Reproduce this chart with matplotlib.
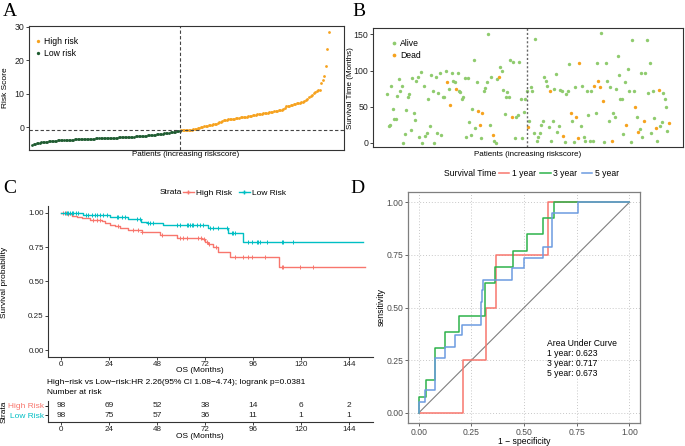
import numpy as np
import matplotlib
matplotlib.use("Agg")
import matplotlib.pyplot as plt
from matplotlib.lines import Line2D

plt.rcParams["font.family"] = ["Liberation Sans", "DejaVu Sans"]
plt.rcParams["font.size"] = 6

# --- data ---
# A: risk score per patient, sorted
risk_low = [-5.3, -5.1, -5.0, -4.9, -4.8, -4.7, -4.6, -4.5, -4.45, -4.4,
            -4.35, -4.3, -4.25, -4.2, -4.15, -4.1, -4.05, -4.0, -3.98, -3.95,
            -3.92, -3.9, -3.88, -3.85, -3.82, -3.8, -3.78, -3.75, -3.72, -3.7,
            -3.68, -3.66, -3.64, -3.62, -3.6, -3.58, -3.56, -3.54, -3.52, -3.5,
            -3.48, -3.46, -3.44, -3.42, -3.4, -3.38, -3.36, -3.34, -3.32, -3.3,
            -3.28, -3.26, -3.24, -3.22, -3.2, -3.18, -3.16, -3.14, -3.12, -3.1,
            -3.08, -3.06, -3.04, -3.0, -2.97, -2.94, -2.9, -2.87, -2.84, -2.8,
            -2.76, -2.72, -2.68, -2.64, -2.6, -2.56, -2.52, -2.48, -2.43, -2.38,
            -2.33, -2.28, -2.22, -2.16, -2.1, -2.03, -1.96, -1.89, -1.82, -1.75,
            -1.68, -1.6, -1.52, -1.44, -1.36, -1.28, -1.18, -1.08]
risk_high = [-1.0, -0.98, -0.95, -0.92, -0.9, -0.88, -0.85, -0.8, -0.7, -0.6,
             -0.45, -0.3, -0.15, 0.0, 0.1, 0.2, 0.3, 0.4, 0.5, 0.6,
             0.7, 0.8, 0.9, 1.0, 1.2, 1.4, 1.6, 1.8, 2.0, 2.1,
             2.2, 2.3, 2.35, 2.4, 2.45, 2.5, 2.6, 2.7, 2.8, 2.9,
             3.0, 3.05, 3.1, 3.15, 3.2, 3.3, 3.4, 3.5, 3.6, 3.7,
             3.8, 3.9, 4.0, 4.05, 4.1, 4.15, 4.2, 4.3, 4.4, 4.5,
             4.6, 4.7, 4.8, 4.9, 5.0, 5.1, 5.2, 5.3, 5.8, 6.2,
             6.3, 6.4, 6.5, 6.6, 6.8, 7.0, 7.1, 7.2, 7.3, 7.4,
             7.6, 7.9, 8.2, 8.5, 8.9, 9.3, 9.7, 10.1, 10.5, 10.8,
             11.0, 11.1, 13.3, 14.0, 15.3, 18.3, 23.5, 28.6]
risk_cutoff = -0.95

# B: survival time (months) and status (1 = dead), same patient order
time_low = [67, 23, 25, 78, 46, 33, 33, 65, 88, 71, 79, 0, 12, 45, 64, 68, 17, 90, 41, 32,
            85, 91, 8, 98, 0, 78, 9, 13, 61, 23, 94, 71, 0, 91, 13, 69, 96, 11, 64, 64,
            100, 84, 75, 52, 97, 86, 84, 74, 96, 71, 70, 61, 64, 89, 8, 89, 28, 11, 46, 114,
            21, 84, 44, 25, 7, 41, 72, 76, 84, 151, 24, 91, 10, 3, 0, 88, 91, 105, 100, 73,
            40, 64, 70, 64, 115, 35, 112, 6, 36, 38, 112, 61, 6, 42, 61, 72]
dead_low = [0, 0, 0, 0, 0, 0, 0, 0, 0, 0, 0, 0, 0, 0, 0, 0, 0, 0, 0, 0,
            0, 0, 0, 0, 0, 0, 0, 0, 0, 0, 0, 0, 0, 0, 0, 0, 0, 0, 0, 0,
            0, 1, 0, 1, 0, 0, 0, 1, 0, 0, 0, 0, 0, 0, 0, 0, 0, 0, 0, 0,
            0, 0, 1, 1, 0, 1, 0, 0, 0, 0, 0, 0, 1, 0, 0, 0, 1, 0, 0, 0,
            0, 0, 0, 0, 0, 1, 0, 0, 0, 0, 0, 0, 0, 0, 0, 0]
time_high = [22, 30, 77, 72, 13, 144, 2, 8, 14, 24, 30, 91, 85, 78, 22, 71, 2, 30, 75, 95,
             15, 23, 73, 72, 9, 1, 68, 71, 109, 41, 30, 1, 77, 36, 6, 110, 23, 79, 8, 3,
             71, 39, 3, 72, 3, 79, 41, 111, 85, 77, 152, 58, 1, 110, 86, 30, 77, 2, 41, 36,
             75, 120, 94, 60, 61, 12, 84, 25, 102, 72, 1, 143, 72, 50, 35, 15, 19, 96, 8, 30,
             97, 143, 69, 111, 13, 72, 34, 21, 2, 73, 23, 28, 69, 61, 50, 16, 27]
dead_high = [1, 0, 0, 0, 0, 0, 0, 0, 0, 0, 0, 0, 0, 0, 0, 1, 0, 0, 0, 0,
             0, 0, 0, 0, 1, 0, 0, 0, 0, 1, 0, 0, 0, 1, 1, 1, 0, 0, 0, 0,
             0, 0, 0, 0, 0, 1, 0, 0, 1, 1, 0, 1, 0, 0, 0, 0, 0, 1, 0, 0,
             0, 0, 0, 0, 0, 0, 0, 1, 0, 0, 0, 0, 0, 1, 0, 1, 0, 0, 0, 1,
             0, 0, 0, 0, 0, 0, 0, 1, 0, 1, 0, 0, 0, 0, 0, 0, 1]

# C: Kaplan-Meier steps and censor times
km_high_t = [0, 2.8, 5.3, 8.2, 10.3, 14.5, 20.3, 22, 24.5, 27, 29.5, 33.7, 40.3, 49.5,
             57.8, 70.3, 72, 73.7, 76.2, 78.7, 84.5, 109, 152]
km_high_s = [1, .99, .978, .969, .961, .951, .939, .927, .915, .903, .886, .874, .859, .835,
             .818, .806, .789, .772, .748, .716, .675, .602, .602]
km_low_t = [0, 11, 24.5, 33.6, 40, 43, 51, 73.7, 83.7, 91.2, 151]
km_low_s = [1, .988, .971, .954, .935, .923, .91, .886, .854, .789, .789]
cens_high = [1.2, 2.3, 3.7, 16.2, 17.8, 19.5, 28.7, 36.2, 38.7, 40.3, 50.3, 59.5, 60.8,
             62.8, 68.7, 70, 71.5, 72.8, 74.2, 77.5, 87, 91, 93.7, 95.5, 102, 110.3, 111,
             119.5, 126]
cens_low = [2, 2.8, 3.7, 4.5, 5.3, 6.2, 7.5, 8.7, 12.5, 13.7, 15.3, 17, 17.8, 19.5, 21.2,
            22.8, 27.8, 28.7, 30.3, 32, 37.8, 39.5, 43.7, 44.5, 46.2, 57.8, 59.5, 62.8, 63.7,
            64.5, 65.3, 66.2, 67.8, 69.5, 71.2, 74.5, 76.2, 78.7, 82.8, 85.3, 86.2, 87, 93.7,
            95.3, 97.8, 98.7, 99.5, 102.8, 110.3, 111.2, 116.2]
risk_times = [0, 24, 48, 72, 96, 120, 144]
at_risk_high = [98, 69, 52, 38, 14, 6, 2]
at_risk_low = [98, 75, 57, 36, 11, 1, 1]

# D: ROC corners (steps-post)
roc_fpr = [
    [0, 0.21, 0.32, 0.365, 0.612, 1],
    [0, 0, 0.033, 0.076, 0.124, 0.192, 0.314, 0.361, 0.445, 0.512, 0.591, 0.642, 1],
    [0, 0, 0.029, 0.076, 0.124, 0.171, 0.203, 0.295, 0.300, 0.305, 0.441, 0.499, 0.588,
     0.634, 0.758, 1],
]
roc_tpr = [
    [0, 0.25, 0.5, 0.75, 1, 1],
    [0, 0.074, 0.154, 0.308, 0.384, 0.46, 0.617, 0.693, 0.77, 0.848, 0.924, 1, 1],
    [0, 0.05, 0.106, 0.262, 0.312, 0.371, 0.419, 0.527, 0.582, 0.63, 0.686, 0.736, 0.789,
     0.948, 1, 1],
]
roc_labels = ["1 year", "3 year", "5 year"]
roc_auc = [0.623, 0.717, 0.673]

# --- style ---
ORANGE = "#F6A21E"
DKGREEN = "#1E5B30"
LTGREEN = "#8FCB6E"
KM_RED = "#F8766D"
KM_TEAL = "#00BFC4"
ROC_COLORS = ["#F8766D", "#2DB34A", "#6C9BE0"]
INK = "#222222"
W, H = 685, 446


def fbox(l, t, r, b):
    return [l / W, 1 - b / H, (r - l) / W, (b - t) / H]


def fy(py):
    return 1 - py / H


def ftext(px, py, s, **kw):
    kw.setdefault("va", "center")
    kw.setdefault("ha", "center")
    kw.setdefault("fontsize", 6)
    fig.text(px / W, fy(py), s, **kw)


fig = plt.figure(figsize=(W / 100, H / 100), dpi=100)

# ---------------- A ----------------
axA = fig.add_axes(fbox(29, 26, 344, 150))
nl = len(risk_low)
xa = np.arange(1, nl + len(risk_high) + 1)
axA.scatter(xa[nl:], risk_high, s=4, color=ORANGE, lw=0, label="High risk")
axA.scatter(xa[:nl], risk_low, s=4, color=DKGREEN, lw=0, label="Low risk")
axA.axvline(nl + 0.5, color="#444444", ls=(0, (3, 2)), lw=0.8)
axA.axhline(risk_cutoff, color="#444444", ls=(0, (3, 2)), lw=0.8)
axA.set_xlim(-1, len(xa) + 10)
axA.set_ylim(-6.9, 30.3)
axA.set_yticks([0, 10, 20, 30])
axA.set_xticks([])
axA.tick_params(axis="y", length=2, width=0.6, pad=1.5, labelsize=6.3, colors=INK)
ftext(5.5, 88, "Risk Score", rotation=90, fontsize=6)
ftext(186, 155, "Patients (increasing riskscore)", fontsize=5.8)
axA.legend(loc="upper left", bbox_to_anchor=(0.016, 0.915), frameon=False,
           handlelength=1, handletextpad=0.2, borderpad=0, borderaxespad=0,
           labelspacing=0.35, markerscale=1.2, fontsize=6.2)
for s in axA.spines.values():
    s.set_color("#333333"); s.set_linewidth(0.8)

# ---------------- B ----------------
axB = fig.add_axes(fbox(373, 28, 683, 147))
times = np.array(time_low + time_high)
dead = np.array(dead_low + dead_high)
xb = np.arange(1, len(times) + 1)
axB.scatter(xb[dead == 0], times[dead == 0], s=6, color=LTGREEN, lw=0, label="Alive")
axB.scatter(xb[dead == 1], times[dead == 1], s=6, color=ORANGE, lw=0, label="Dead")
axB.axvline(len(time_low) + 0.5, color="#666666", ls=(0, (1.5, 1.5)), lw=1)
pad = 0.05 * (len(times) - 1)
axB.set_xlim(1 - pad, len(times) + pad)
axB.set_ylim(-6, 159)
axB.set_yticks([0, 50, 100, 150])
axB.set_xticks([])
axB.tick_params(axis="y", length=2, width=0.6, pad=1.5, labelsize=6.3, colors=INK)
ftext(350.5, 88, "Survival Time (Months)", rotation=90, fontsize=5.8)
ftext(528, 154, "Patients (increasing riskscore)", fontsize=5.8)
axB.legend(loc="upper left", bbox_to_anchor=(0.055, 0.91), frameon=False,
           handlelength=1, handletextpad=0.2, borderpad=0, borderaxespad=0,
           labelspacing=0.35, markerscale=1.1, fontsize=6.2)
for s in axB.spines.values():
    s.set_color("#333333"); s.set_linewidth(0.8)

# ---------------- C ----------------
axC = fig.add_axes(fbox(48, 206, 373, 357.3))
for t, sv, ct, col in [(km_high_t, km_high_s, cens_high, KM_RED),
                       (km_low_t, km_low_s, cens_low, KM_TEAL)]:
    t = np.array(t); sv = np.array(sv)
    axC.step(t, sv, where="post", color=col, lw=1)
    idx = np.searchsorted(t, ct, side="right") - 1
    axC.plot(ct, sv[idx], "+", color=col, ms=3.5, mew=0.7)
axC.set_xlim(-6.5, 156)
axC.set_ylim(-0.053, 1.05)
axC.set_xticks(risk_times)
axC.set_yticks([0, 0.25, 0.5, 0.75, 1.0])
axC.set_yticklabels(["0.00", "0.25", "0.50", "0.75", "1.00"])
axC.tick_params(length=2, width=0.6, pad=1, labelsize=5.8, colors=INK)
ftext(5, 282, "Survival probability", rotation=90)
ftext(200, 371, "OS (Months)")
for k in ["top", "right"]:
    axC.spines[k].set_visible(False)
for k in ["left", "bottom"]:
    axC.spines[k].set_color("#333333"); axC.spines[k].set_linewidth(0.8)

ftext(160, 192.7, "Strata", ha="left")
fig.legend(handles=[Line2D([], [], color=KM_RED, marker="+", ms=3.5, lw=1),
                    Line2D([], [], color=KM_TEAL, marker="+", ms=3.5, lw=1)],
           labels=["High Risk", "Low Risk"], loc="center left",
           bbox_to_anchor=(183 / W, fy(192.7)), ncol=2, frameon=False,
           handlelength=1.3, handletextpad=0.3, columnspacing=0.8, borderpad=0,
           borderaxespad=0, fontsize=6)

ftext(46.7, 382.7,
      "High\u2212risk vs Low\u2212risk:HR 2.26(95% CI 1.08\u22124.74); logrank p=0.0381",
      ha="left")
ftext(46.7, 392.7, "Number at risk", ha="left")

axT = fig.add_axes(fbox(48, 401, 373, 421.7))
axT.set_xlim(-6.5, 156)
axT.set_ylim(0.27, 2.55)
for t, a, b in zip(risk_times, at_risk_high, at_risk_low):
    axT.text(t, 2, str(a), ha="center", va="center", fontsize=6, color=INK)
    axT.text(t, 1, str(b), ha="center", va="center", fontsize=6, color=INK)
axT.set_xticks(risk_times)
axT.set_yticks([2, 1])
axT.set_yticklabels(["High Risk", "Low Risk"])
for lab, col in zip(axT.get_yticklabels(), [KM_RED, KM_TEAL]):
    lab.set_color(col)
axT.tick_params(length=2, width=0.6, pad=1, labelsize=5.8)
axT.tick_params(axis="y", labelsize=6)
axT.tick_params(axis="x", colors=INK)
ftext(200, 436, "OS (Months)")
for k in ["top", "right"]:
    axT.spines[k].set_visible(False)
for k in ["left", "bottom"]:
    axT.spines[k].set_color("#333333"); axT.spines[k].set_linewidth(0.8)
ftext(4.5, 411.7, "Strata", rotation=90)

# ---------------- D ----------------
axD = fig.add_axes(fbox(408.3, 191.7, 640, 423.3))
ticks = [0, 0.25, 0.5, 0.75, 1.0]
axD.set_xticks(ticks)
axD.set_yticks(ticks)
axD.set_xticklabels(["0.00", "0.25", "0.50", "0.75", "1.00"])
axD.set_yticklabels(["0.00", "0.25", "0.50", "0.75", "1.00"])
axD.grid(True, color="#C8C8C8", ls=(0, (1, 2)), lw=0.7)
axD.set_axisbelow(True)
axD.plot([0, 1], [0, 1], color="#7F7F7F", lw=0.8)
for fx, ty, col in zip(roc_fpr, roc_tpr, ROC_COLORS):
    axD.plot(fx, ty, drawstyle="steps-post", color=col, lw=1.1)
axD.set_xlim(-0.05, 1.05)
axD.set_ylim(-0.05, 1.05)
axD.tick_params(length=2.5, width=0.6, pad=1.2, labelsize=6.2, colors="#4D4D4D")
ftext(381.5, 307, "sensitivity", rotation=90, fontsize=6.2)
ftext(524, 441, "1 \u2212 specificity", fontsize=6.2)
for s in axD.spines.values():
    s.set_color("#7F7F7F"); s.set_linewidth(0.9)

auc_lines = ["Area Under Curve"] + [f"{l}: {a:.3f}" for l, a in zip(roc_labels, roc_auc)]
for i, line in enumerate(auc_lines):
    ftext(547, 343.7 + 10 * i, line, ha="left", fontsize=6.2)

ftext(444, 174, "Survival Time", ha="left", fontsize=6.2)
fig.legend(handles=[Line2D([], [], color=c, lw=1.1) for c in ROC_COLORS],
           labels=roc_labels, loc="center left", bbox_to_anchor=(499 / W, fy(174)),
           ncol=3, frameon=False, handlelength=1.2, handletextpad=0.3,
           columnspacing=0.5, borderpad=0, borderaxespad=0, fontsize=6.2)

# panel letters
for lab, px, py in [("A", 3, 3), ("B", 352, 3), ("C", 3, 180), ("D", 350, 180)]:
    fig.text(px / W, fy(py), lab, ha="left", va="top", fontsize=14,
             family="Liberation Serif")

fig.savefig("out.png", dpi=100)
